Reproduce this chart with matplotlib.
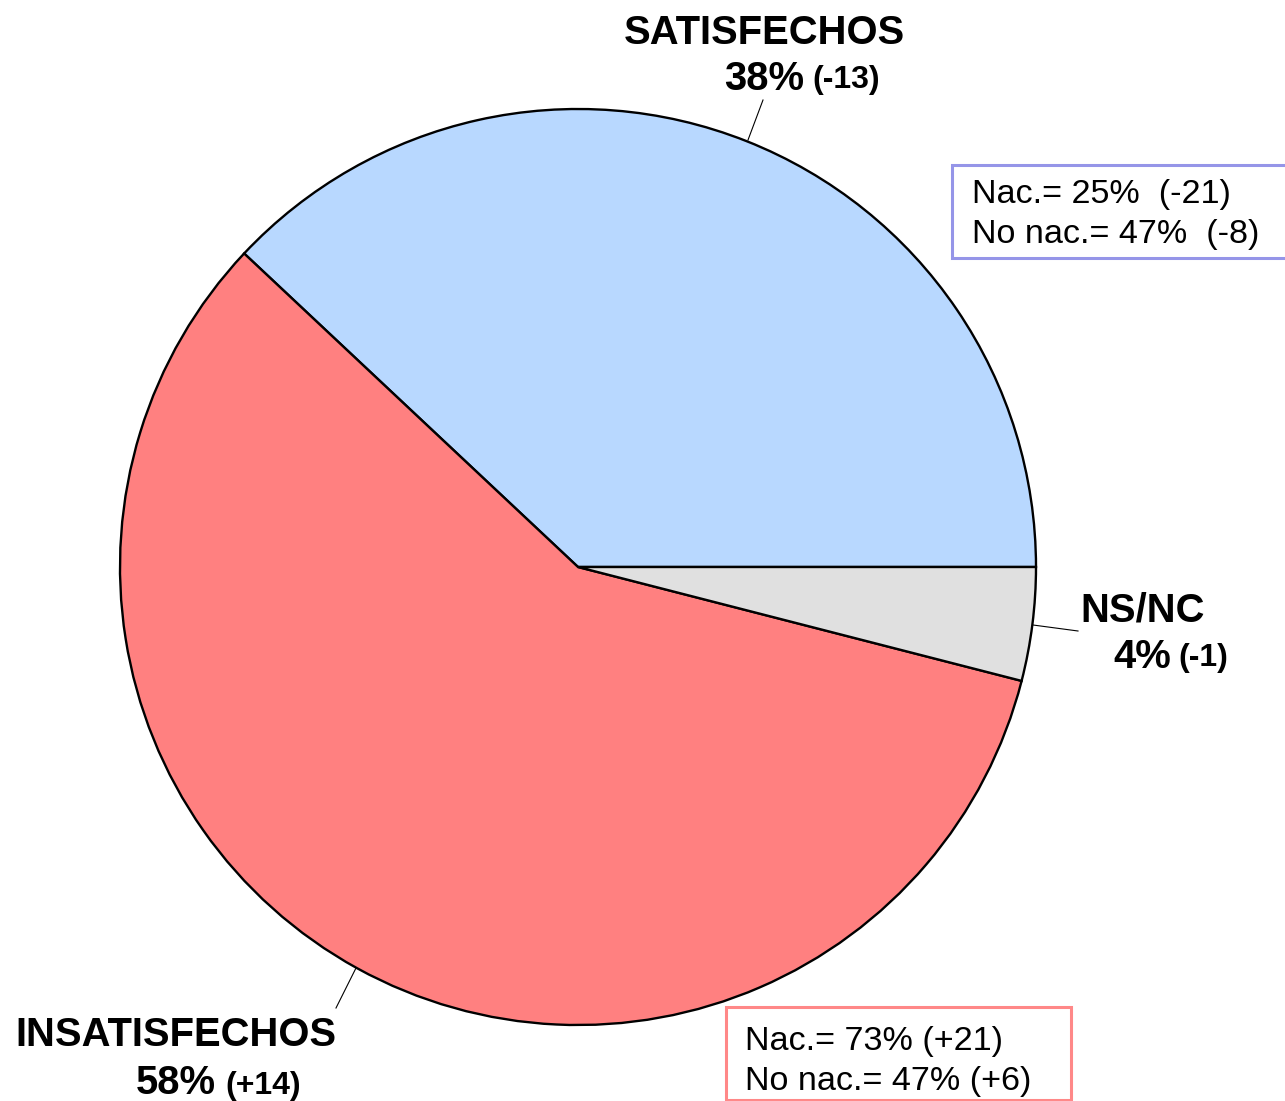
import matplotlib
matplotlib.use('Agg')
from matplotlib import pyplot as plt
from matplotlib.patches import Rectangle

plt.rcParams['font.family'] = ['Liberation Sans', 'DejaVu Sans']

# data
labels = ['SATISFECHOS', 'INSATISFECHOS', 'NS/NC']
shares = [38, 58, 4]
changes = ['(-13)', '(+14)', '(-1)']
colors = ['#B8D8FF', '#FF8080', '#E0E0E0']
box_sat = ['Nac.= 25%  (-21)', 'No nac.= 47%  (-8)']
box_insat = ['Nac.= 73% (+21)', 'No nac.= 47% (+6)']

W, H = 1285, 1101


def py(y):
    # pixel row -> data y
    return H - y


fig = plt.figure(figsize=(W / 100, H / 100), dpi=100)
ax = fig.add_axes([0, 0, 1, 1])

ax.pie(shares, colors=colors, startangle=0, counterclock=True,
       center=(578, py(567)), radius=458, frame=True,
       wedgeprops=dict(edgecolor='black', linewidth=1.7))
ax.set_xlim(0, W)
ax.set_ylim(0, H)
ax.axis('off')

big = 28.8
small = 23

# SATISFECHOS
ax.text(764, py(44), labels[0], fontsize=big, fontweight='bold', ha='center', va='baseline')
ax.text(724, py(90), f'{shares[0]}%', fontsize=big, fontweight='bold', ha='left', va='baseline')
ax.text(812, py(88), changes[0], fontsize=small, fontweight='bold', ha='left', va='baseline')
ax.plot([748, 763], [py(140), py(100)], color='black', linewidth=0.8)

# NS/NC
ax.text(1080, py(622), labels[2], fontsize=big, fontweight='bold', ha='left', va='baseline')
ax.text(1113, py(668), f'{shares[2]}%', fontsize=big, fontweight='bold', ha='left', va='baseline')
ax.text(1178, py(666), changes[2], fontsize=small, fontweight='bold', ha='left', va='baseline')
ax.plot([1033, 1078], [py(625), py(631)], color='black', linewidth=0.8)

# INSATISFECHOS
ax.text(15, py(1046), labels[1], fontsize=big, fontweight='bold', ha='left', va='baseline')
ax.text(136, py(1094), f'{shares[1]}%', fontsize=big, fontweight='bold', ha='left', va='baseline')
ax.text(225, py(1094), changes[1], fontsize=small, fontweight='bold', ha='left', va='baseline')
ax.plot([336, 356], [py(1008), py(968)], color='black', linewidth=0.8)

# boxes
ax.add_patch(Rectangle((952, py(258)), 345, 93, facecolor='white', edgecolor='#9595E8',
                       linewidth=2.2, clip_on=False))
ax.text(972, py(203), box_sat[0], fontsize=24.6, ha='left', va='baseline')
ax.text(972, py(243), box_sat[1], fontsize=24.6, ha='left', va='baseline')

ax.add_patch(Rectangle((726, py(1100)), 345, 93, facecolor='white', edgecolor='#FF8888',
                       linewidth=2.2, clip_on=False))
ax.text(745, py(1050), box_insat[0], fontsize=24.6, ha='left', va='baseline')
ax.text(745, py(1090), box_insat[1], fontsize=24.6, ha='left', va='baseline')

plt.savefig('out.png', dpi=100)
plt.close()
